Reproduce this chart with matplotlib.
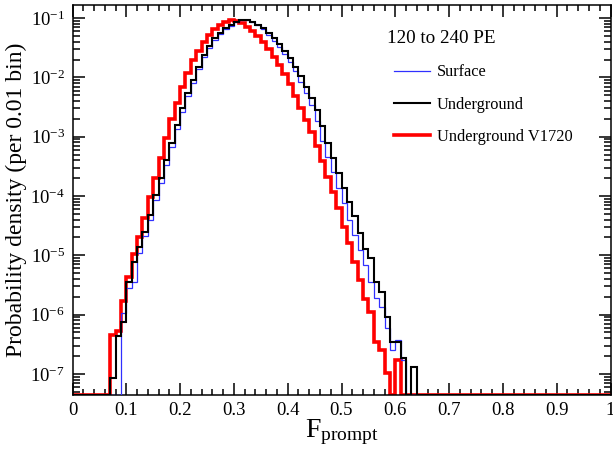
import numpy as np
import matplotlib
matplotlib.use("Agg")
import matplotlib.pyplot as plt
from matplotlib.ticker import FixedLocator, LogLocator, FuncFormatter, NullFormatter

plt.rcParams['font.family'] = ['Liberation Serif', 'DejaVu Serif']
plt.rcParams['mathtext.fontset'] = 'custom'
plt.rcParams['mathtext.rm'] = 'Liberation Serif'
plt.rcParams['mathtext.it'] = 'Liberation Serif:italic'
plt.rcParams['mathtext.bf'] = 'Liberation Serif:bold'

# F_prompt histograms, 0.01-wide bins on [0, 1]; each list starts at the given lower bin edge
bin_width = 0.01
n_bins = 100

surface_lo = 0.09
surface = [1.05e-6, 2.82e-6, 3.55e-6, 1.10e-5, 2.09e-5, 3.98e-5, 8.51e-5, 1.66e-4,
           3.39e-4, 6.61e-4, 1.35e-3, 2.63e-3, 4.90e-3, 8.13e-3, 1.38e-2, 2.19e-2,
           3.16e-2, 4.27e-2, 5.37e-2, 6.46e-2, 7.41e-2, 8.51e-2, 9.12e-2, 9.33e-2,
           8.71e-2, 7.59e-2, 6.46e-2, 5.25e-2, 4.17e-2, 3.24e-2, 2.45e-2, 1.82e-2,
           1.26e-2, 8.51e-3, 5.50e-3, 3.39e-3, 1.82e-3, 8.51e-4, 4.57e-4, 2.51e-4,
           1.35e-4, 7.59e-5, 3.89e-5, 2.19e-5, 1.23e-5, 6.76e-6, 3.55e-6, 1.91e-6,
           1.35e-6, 5.89e-7, 2.51e-7, 3.72e-7, 1.70e-7]

underground_lo = 0.07
underground = [8.51e-8, 4.37e-7, 7.59e-7, 3.55e-6, 7.76e-6, 1.38e-5, 2.51e-5, 4.79e-5,
               1.05e-4, 2.00e-4, 4.07e-4, 7.76e-4, 1.58e-3, 3.02e-3, 5.50e-3, 8.91e-3,
               1.51e-2, 2.40e-2, 3.39e-2, 4.57e-2, 5.62e-2, 6.76e-2, 7.59e-2, 8.51e-2,
               9.12e-2, 9.33e-2, 8.71e-2, 7.76e-2, 6.76e-2, 5.62e-2, 4.57e-2, 3.63e-2,
               2.75e-2, 2.14e-2, 1.48e-2, 1.05e-2, 6.92e-3, 4.47e-3, 2.82e-3, 1.51e-3,
               7.76e-4, 4.37e-4, 2.45e-4, 1.35e-4, 7.94e-5, 4.57e-5, 2.40e-5, 1.29e-5,
               8.91e-6, 3.55e-6, 2.40e-6, 9.12e-7, 3.47e-7, 3.47e-7, 1.82e-7, 0.0,
               1.29e-7]

v1720_lo = 0.07
v1720 = [4.47e-7, 5.25e-7, 1.70e-6, 4.27e-6, 1.05e-5, 2.04e-5, 4.27e-5, 9.55e-5,
         2.00e-4, 4.37e-4, 9.55e-4, 2.00e-3, 3.72e-3, 6.92e-3, 1.17e-2, 1.95e-2,
         2.75e-2, 3.98e-2, 5.13e-2, 6.46e-2, 7.59e-2, 8.71e-2, 9.12e-2, 8.91e-2,
         8.32e-2, 7.08e-2, 6.03e-2, 5.01e-2, 3.98e-2, 3.02e-2, 2.19e-2, 1.62e-2,
         1.15e-2, 7.76e-3, 4.79e-3, 3.02e-3, 1.91e-3, 1.20e-3, 6.92e-4, 3.89e-4,
         2.09e-4, 1.17e-4, 6.31e-5, 3.02e-5, 1.62e-5, 7.76e-6, 3.80e-6, 1.86e-6,
         1.12e-6, 3.47e-7, 2.51e-7, 1.02e-7, 0.0, 1.70e-7]

series_labels = ["Surface", "Underground", "Underground V1720"]
legend_title = "120 to 240 PE"
xtick_values = [0, 0.1, 0.2, 0.3, 0.4, 0.5, 0.6, 0.7, 0.8, 0.9, 1.0]
xtick_labels = ["0", "0.1", "0.2", "0.3", "0.4", "0.5", "0.6", "0.7", "0.8", "0.9", "1"]

y_min, y_max = 4.4e-8, 0.166
edges = np.linspace(0.0, 1.0, n_bins + 1)


def full_hist(lo, vals):
    h = np.zeros(n_bins)
    i0 = int(round(lo / bin_width))
    h[i0:i0 + len(vals)] = vals
    # empty bins sit on the lower edge of the log axis
    return np.where(h > 0, h, y_min)


W, H = 613, 450
fig = plt.figure(figsize=(W / 100, H / 100), dpi=100)
ax = fig.add_axes([72.5 / W, 55 / H, (610.5 - 72.5) / W, 390 / H])
ax.set_yscale('log')

h_red = ax.stairs(full_hist(v1720_lo, v1720), edges, color='#ff0000', lw=2.6,
                  label=series_labels[2], zorder=2)
h_blue = ax.stairs(full_hist(surface_lo, surface), edges, color='#3030ff', lw=0.9,
                   label=series_labels[0], zorder=3)
h_black = ax.stairs(full_hist(underground_lo, underground), edges, color='black', lw=1.5,
                    label=series_labels[1], zorder=4)

ax.set_xlim(0, 1)
ax.set_ylim(y_min, y_max)

ax.xaxis.set_major_locator(FixedLocator(xtick_values))
ax.set_xticklabels(xtick_labels)
ax.xaxis.set_minor_locator(FixedLocator(np.arange(0, 1.0001, 0.02)))
ax.yaxis.set_major_locator(LogLocator(base=10, numticks=20))
ax.yaxis.set_minor_locator(LogLocator(base=10, subs=np.arange(2, 10), numticks=20))
ax.yaxis.set_major_formatter(FuncFormatter(lambda v, p: r'$\mathregular{10^{%d}}$' % int(round(np.log10(v)))))
ax.yaxis.set_minor_formatter(NullFormatter())

ax.tick_params(which='both', direction='in', top=True, right=True, width=1.1, colors='black')
ax.tick_params(which='major', length=8.6, labelsize=13.5)
ax.tick_params(axis='x', which='major', pad=5)
ax.tick_params(axis='y', which='major', pad=5.5)
ax.tick_params(axis='x', which='minor', length=4)
ax.tick_params(axis='y', which='minor', length=5)
for s in ax.spines.values():
    s.set_linewidth(1.1)

ax.set_xlabel(r'$\mathregular{F_{prompt}}$', fontsize=20, labelpad=-1)
ax.set_ylabel('Probability density (per 0.01 bin)', fontsize=17, labelpad=2)

leg = ax.legend(handles=[h_blue, h_black, h_red], labels=series_labels,
                fontsize=11.8, frameon=False,
                loc='upper left', bbox_to_anchor=(394 / W, 1 - 64.5 / H),
                bbox_transform=fig.transFigure, borderpad=0, borderaxespad=0,
                handlelength=2.2, handletextpad=0.42, labelspacing=0.98)
fig.text(387 / W, 1 - 38.5 / H, legend_title, fontsize=13.8, ha='left', va='center')

fig.savefig('out.png', dpi=100)
